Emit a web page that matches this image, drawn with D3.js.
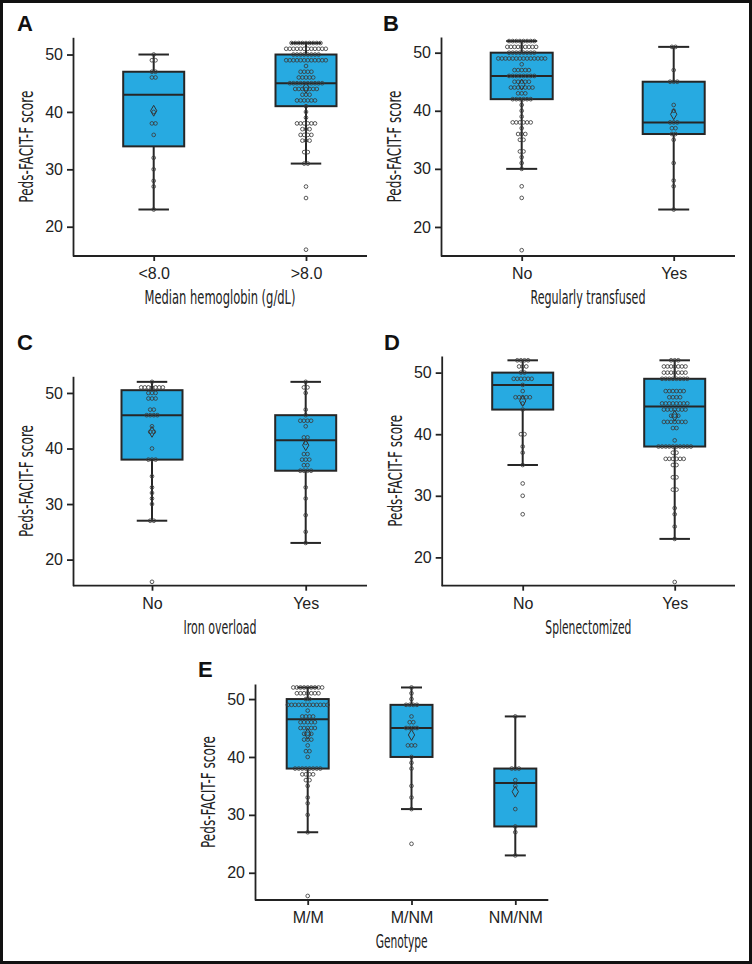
<!DOCTYPE html>
<html>
<head>
<meta charset="utf-8">
<script src="https://cdn.jsdelivr.net/npm/d3@7"></script>
<style>
  body { margin: 0; background: #fff; }
  svg { display: block; }
  .tick text { font-family: 'Liberation Sans', Arial, sans-serif; font-size: 16px; fill: #222; }
  .axis path, .axis line { stroke: #222; stroke-width: 1.8px; }
  .title { font-family: 'Liberation Sans Narrow', 'DejaVu Sans Condensed', 'Liberation Sans', sans-serif; font-size: 20px; fill: #222; }
  .letter { font-family: 'Liberation Sans', Arial, sans-serif; font-size: 22px; font-weight: bold; fill: #111; }
</style>
</head>
<body>
<div id="chart"></div>
<script>
// Shared y ticks
const yTicks = [20, 30, 40, 50];

// Box stats: q1, median, q3, whisker low/high, mean (diamond)
// Points: [score, number of patients]

// A - median hemoglobin
const hbCategories = ['<8.0', '>8.0'];
const hbBoxes = [
    { q1: 34, median: 43, q3: 47, low: 23, high: 50, mean: 40.2 },
    { q1: 41, median: 45, q3: 50, low: 31, high: 52, mean: 44.2 },
];
const hbPoints = [
    [[50, 1], [49, 2], [47, 2], [46, 2], [40, 1], [38, 2], [36, 1], [32, 1], [30, 1], [28, 1], [27, 1], [23, 1]],
    [[52, 9], [51, 12], [50, 8], [49, 12], [48, 1], [47, 4], [46, 5], [45, 10], [44, 7], [43, 3], [42, 6], [41, 1],
     [40, 1], [39, 1], [38, 6], [37, 3], [36, 4], [35, 3], [33, 2], [31, 2], [27, 1], [25, 1], [16, 1]],
];

// B - regularly transfused
const txCategories = ['No', 'Yes'];
const txBoxes = [
    { q1: 42, median: 46, q3: 50, low: 30, high: 52, mean: 44.5 },
    { q1: 36, median: 38, q3: 45, low: 23, high: 51, mean: 39.4 },
];
const txPoints = [
    [[52, 8], [51, 9], [50, 8], [49, 14], [48, 1], [47, 5], [46, 8], [45, 5], [44, 7], [43, 3], [42, 6], [41, 1],
     [40, 1], [39, 1], [38, 6], [37, 1], [36, 3], [35, 2], [33, 2], [32, 1], [31, 1], [30, 1], [27, 1], [25, 1], [16, 1]],
    [[51, 2], [47, 1], [45, 3], [41, 1], [40, 1], [38, 3], [37, 2], [36, 2], [35, 1], [31, 1], [28, 1], [27, 1], [23, 1]],
];

// C - iron overload
const ironCategories = ['No', 'Yes'];
const ironBoxes = [
    { q1: 38, median: 46, q3: 50.5, low: 27, high: 52, mean: 43 },
    { q1: 36, median: 41.5, q3: 46, low: 23, high: 52, mean: 40.6 },
];
const ironPoints = [
    [[52, 1], [51, 7], [50, 3], [49, 3], [47, 2], [46, 4], [44, 1], [43, 2], [40, 1], [38, 3], [35, 1], [33, 1],
     [32, 1], [31, 1], [30, 1], [27, 2], [16, 1]],
    [[52, 1], [51, 2], [50, 1], [47, 1], [46, 1], [45, 4], [44, 1], [42, 2], [41, 1], [39, 2], [38, 3], [37, 2],
     [36, 4], [33, 1], [31, 1], [28, 1], [25, 1], [23, 1]],
];

// D - splenectomized
const splCategories = ['No', 'Yes'];
const splBoxes = [
    { q1: 44, median: 48, q3: 50, low: 35, high: 52, mean: 45.4 },
    { q1: 38, median: 44.5, q3: 49, low: 23, high: 52, mean: 43 },
];
const splPoints = [
    [[52, 4], [51, 3], [50, 2], [49, 6], [48, 1], [47, 1], [46, 5], [45, 1], [44, 1], [40, 2], [38, 1], [37, 1],
     [35, 1], [32, 1], [30, 1], [27, 1]],
    [[52, 3], [51, 7], [50, 7], [49, 8], [47, 6], [46, 4], [45, 8], [44, 7], [43, 3], [42, 7], [41, 2], [39, 1],
     [38, 10], [37, 2], [36, 6], [35, 2], [33, 2], [31, 2], [28, 1], [27, 1], [25, 1], [23, 1], [16, 1]],
];

// E - genotype
const genoCategories = ['M/M', 'M/NM', 'NM/NM'];
const genoBoxes = [
    { q1: 38, median: 46.5, q3: 50, low: 27, high: 52, mean: 44 },
    { q1: 40, median: 45, q3: 49, low: 31, high: 52, mean: 43.8 },
    { q1: 28, median: 35.5, q3: 38, low: 23, high: 47, mean: 34 },
];
const genoPoints = [
    [[52, 9], [51, 7], [50, 2], [49, 12], [48, 1], [47, 4], [46, 5], [45, 5], [44, 3], [43, 3], [42, 1], [41, 2],
     [40, 1], [38, 8], [37, 4], [36, 2], [35, 1], [33, 1], [32, 1], [30, 1], [27, 1], [16, 1]],
    [[52, 1], [51, 1], [50, 1], [49, 4], [47, 1], [46, 2], [45, 4], [42, 3], [40, 1], [39, 1], [38, 1], [35, 1],
     [33, 1], [31, 1], [25, 1]],
    [[47, 1], [38, 3], [36, 1], [35, 1], [31, 1], [28, 1], [27, 1], [23, 1]],
];

const panels = [
    { letter: 'A', lx: 17, ly: 31, cats: hbCategories, boxes: hbBoxes, points: hbPoints,
      title: 'Median hemoglobin (g/dL)', titleLen: 151,
      axisX: 73, axisRight: 367, yTop: 37.3, yBottom: 256, domain: [14.9, 53], catRange: [153.7, 306], boxW: 61 },
    { letter: 'B', lx: 383, ly: 31, cats: txCategories, boxes: txBoxes, points: txPoints,
      title: 'Regularly transfused', titleLen: 115,
      axisX: 441, axisRight: 735, yTop: 37, yBottom: 256, domain: [15, 52.7], catRange: [521.7, 673.7], boxW: 62 },
    { letter: 'C', lx: 17, ly: 350, cats: ironCategories, boxes: ironBoxes, points: ironPoints,
      title: 'Iron overload', titleLen: 73,
      axisX: 73, axisRight: 367, yTop: 376.3, yBottom: 585.7, domain: [15.3, 53], catRange: [152, 305.7], boxW: 61 },
    { letter: 'D', lx: 384, ly: 350, cats: splCategories, boxes: splBoxes, points: splPoints,
      title: 'Splenectomized', titleLen: 86,
      axisX: 441.7, axisRight: 735, yTop: 356, yBottom: 585.7, domain: [15.4, 52.7], catRange: [522.7, 674.7], boxW: 61 },
    { letter: 'E', lx: 198, ly: 677, cats: genoCategories, boxes: genoBoxes, points: genoPoints,
      title: 'Genotype', titleLen: 52,
      axisX: 255, axisRight: 548.3, yTop: 684, yBottom: 900, domain: [15.3, 52.6], catRange: [307.7, 515.3], boxW: 42 },
];

const svg_width = 752;
const svg_height = 964;
const boxColor = '#27aae1';
const lineColor = '#262626';
const dotSpacing = 3.6;

const svg = d3.select('#chart').append('svg')
    .attr('width', svg_width).attr('height', svg_height);

// outer frame
svg.append('rect')
    .attr('x', 1.5).attr('y', 1.5)
    .attr('width', svg_width - 3).attr('height', svg_height - 3)
    .attr('fill', 'none').attr('stroke', '#111').attr('stroke-width', 3);

function drawPanel(p) {
    const g = svg.append('g');
    const yScale = d3.scaleLinear().domain(p.domain).range([p.yBottom, p.yTop]);
    const xScale = d3.scalePoint().domain(p.cats).range(p.catRange);

    // panel letter
    g.append('text').attr('class', 'letter').attr('x', p.lx).attr('y', p.ly).text(p.letter);

    // whiskers
    g.selectAll('.whisker').data(p.boxes).enter().append('line')
        .attr('x1', (d, i) => xScale(p.cats[i])).attr('x2', (d, i) => xScale(p.cats[i]))
        .attr('y1', d => yScale(d.low)).attr('y2', d => yScale(d.high))
        .attr('stroke', lineColor).attr('stroke-width', 2);
    ['low', 'high'].forEach(k => {
        g.selectAll('.cap-' + k).data(p.boxes).enter().append('line')
            .attr('x1', (d, i) => xScale(p.cats[i]) - p.boxW / 4)
            .attr('x2', (d, i) => xScale(p.cats[i]) + p.boxW / 4)
            .attr('y1', d => yScale(d[k])).attr('y2', d => yScale(d[k]))
            .attr('stroke', lineColor).attr('stroke-width', 2);
    });

    // boxes
    g.selectAll('.box').data(p.boxes).enter().append('rect')
        .attr('x', (d, i) => xScale(p.cats[i]) - p.boxW / 2)
        .attr('y', d => yScale(d.q3))
        .attr('width', p.boxW)
        .attr('height', d => yScale(d.q1) - yScale(d.q3))
        .attr('fill', boxColor).attr('stroke', lineColor).attr('stroke-width', 2);
    g.selectAll('.median').data(p.boxes).enter().append('line')
        .attr('x1', (d, i) => xScale(p.cats[i]) - p.boxW / 2)
        .attr('x2', (d, i) => xScale(p.cats[i]) + p.boxW / 2)
        .attr('y1', d => yScale(d.median)).attr('y2', d => yScale(d.median))
        .attr('stroke', lineColor).attr('stroke-width', 2);

    // dot plot: same scores stacked side by side
    const dots = [];
    p.points.forEach((rows, i) => {
        rows.forEach(([score, n]) => {
            for (let k = 0; k < n; k++) {
                dots.push({ cat: p.cats[i], score: score, offset: (k - (n - 1) / 2) * dotSpacing });
            }
        });
    });
    g.selectAll('.dot').data(dots).enter().append('circle')
        .attr('cx', d => xScale(d.cat) + d.offset)
        .attr('cy', d => yScale(d.score))
        .attr('r', 1.85)
        .attr('fill', 'none').attr('stroke', '#3c3c3c').attr('stroke-width', 0.85);

    // mean diamond
    g.selectAll('.mean').data(p.boxes).enter().append('path')
        .attr('d', d3.symbol().type(d3.symbolDiamond).size(34))
        .attr('transform', (d, i) => `translate(${xScale(p.cats[i])}, ${yScale(d.mean)})`)
        .attr('fill', 'none').attr('stroke', '#333').attr('stroke-width', 1);

    // y axis
    const yAxis = d3.axisLeft(yScale).tickValues(yTicks).tickSize(6).tickPadding(4).tickSizeOuter(0);
    g.append('g').attr('class', 'axis')
        .attr('transform', `translate(${p.axisX}, 0)`).call(yAxis);

    // x axis, line runs from the y axis to the right end
    const xAxis = d3.axisBottom(xScale).tickSize(5).tickPadding(6.5).tickSizeOuter(0);
    const xAxisDraw = g.append('g').attr('class', 'axis')
        .attr('transform', `translate(0, ${p.yBottom})`).call(xAxis);
    xAxisDraw.select('.domain').attr('d', `M${p.axisX},0H${p.axisRight}`);

    // axis titles
    g.append('text').attr('class', 'title')
        .attr('text-anchor', 'middle')
        .attr('x', (p.axisX + p.axisRight) / 2).attr('y', p.yBottom + 48)
        .attr('textLength', p.titleLen).attr('lengthAdjust', 'spacingAndGlyphs')
        .text(p.title);
    g.append('text').attr('class', 'title')
        .attr('text-anchor', 'middle')
        .attr('transform', `translate(${p.axisX - 40}, ${(p.yTop + p.yBottom) / 2}) rotate(-90)`)
        .attr('textLength', 112).attr('lengthAdjust', 'spacingAndGlyphs')
        .text('Peds-FACIT-F score');
}

panels.forEach(drawPanel);
</script>
</body>
</html>
